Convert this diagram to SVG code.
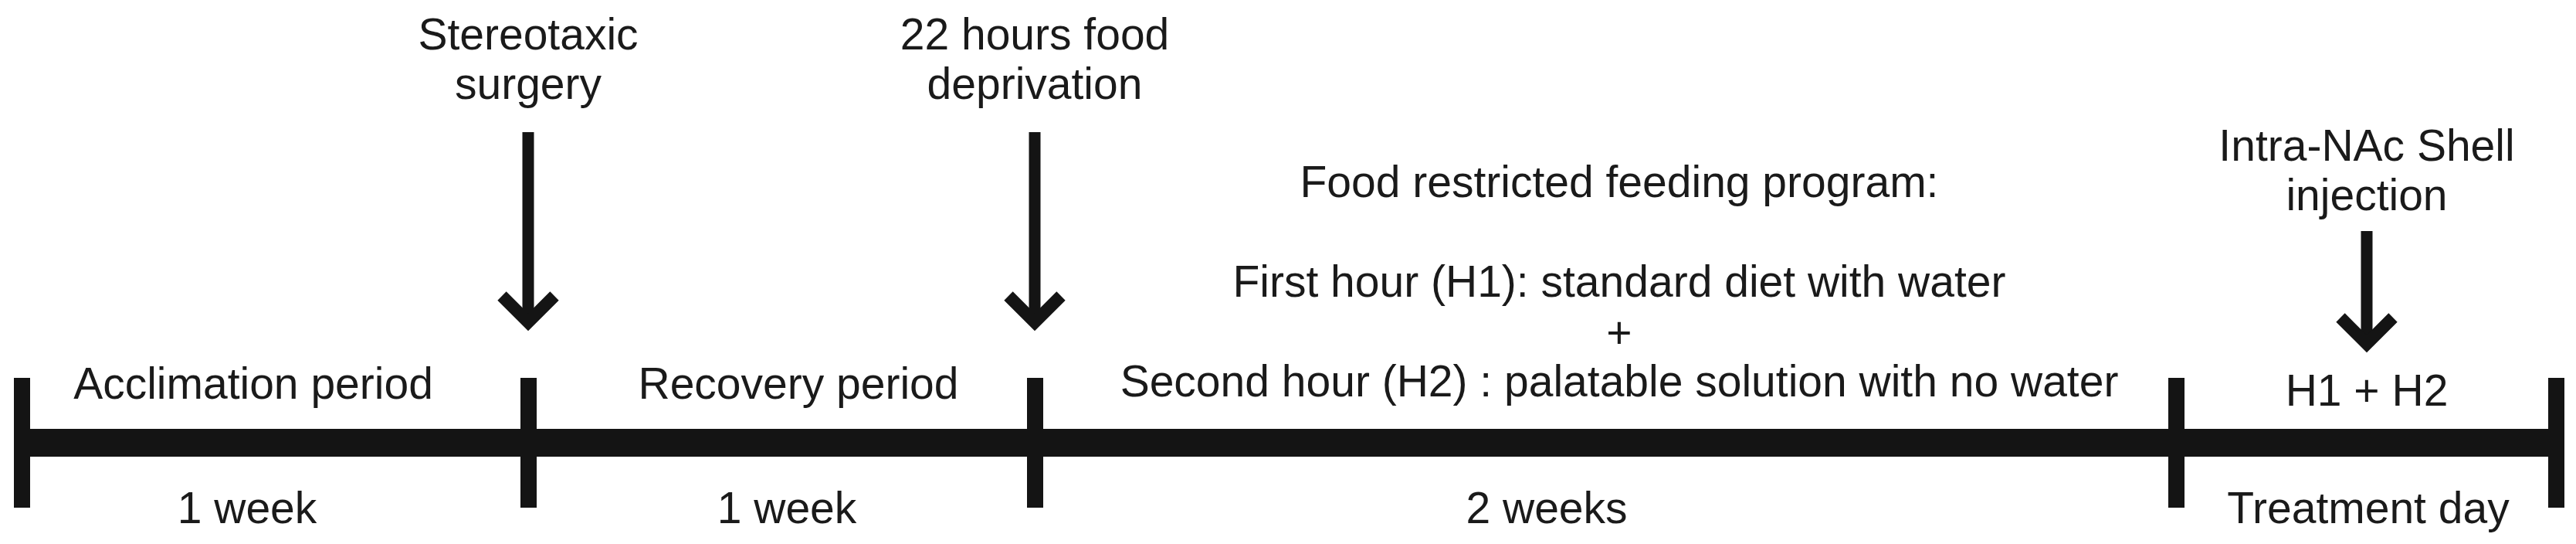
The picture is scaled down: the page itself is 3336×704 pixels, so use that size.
<svg xmlns="http://www.w3.org/2000/svg" width="3336" height="704" viewBox="0 0 3336 704">
<style>
text{font-family:"Liberation Sans",Arial,sans-serif;font-size:57px;fill:#1a1a1a;text-anchor:middle}
.bar{fill:#141414}
.shaft{stroke:#141414;stroke-width:15;fill:none}
</style>
<defs>
<marker id="ah" markerUnits="userSpaceOnUse" markerWidth="100" markerHeight="100" viewBox="-50 -50 100 100" refX="0" refY="0" orient="auto" overflow="visible">
<polyline points="-34,-34 0,0 -34,34" fill="none" stroke="#141414" stroke-width="16" stroke-miterlimit="10"/>
</marker>
</defs>
<rect width="3336" height="704" fill="#fff"/>
<g id="timeline">
<rect class="bar" x="28" y="555" width="3282" height="36"/>
<rect class="bar" x="18" y="489" width="21" height="168"/>
<rect class="bar" x="674" y="489" width="21" height="168"/>
<rect class="bar" x="1330" y="489" width="21" height="168"/>
<rect class="bar" x="2808" y="489" width="21" height="168"/>
<rect class="bar" x="3300" y="489" width="21" height="168"/>
</g>
<g id="connectors">
<line class="shaft" x1="684" y1="171" x2="684" y2="417" marker-end="url(#ah)"/>
<line class="shaft" x1="1340" y1="171" x2="1340" y2="417" marker-end="url(#ah)"/>
<line class="shaft" x1="3065" y1="299" x2="3065" y2="445" marker-end="url(#ah)"/>
</g>
<g id="surgery">
<text x="684" y="64">Stereotaxic</text>
<text x="684" y="128">surgery</text>
</g>
<g id="deprivation">
<text x="1340" y="64">22 hours food</text>
<text x="1340" y="128">deprivation</text>
</g>
<g id="injection">
<text x="3065" y="208">Intra-NAc Shell</text>
<text x="3065" y="272">injection</text>
</g>
<g id="acclimation">
<text x="328" y="516">Acclimation period</text>
<text x="320" y="677">1 week</text>
</g>
<g id="recovery">
<text x="1034" y="516">Recovery period</text>
<text x="1019" y="677">1 week</text>
</g>
<g id="feeding">
<text x="2097" y="255">Food restricted feeding program:</text>
<text x="2097" y="384">First hour (H1): standard diet with water</text>
<text x="2097" y="450">+</text>
<text x="2097" y="513">Second hour (H2) : palatable solution with no water</text>
<text x="2003" y="677">2 weeks</text>
</g>
<g id="treatment">
<text x="3065" y="525">H1 + H2</text>
<text x="3067" y="677">Treatment day</text>
</g>
</svg>
